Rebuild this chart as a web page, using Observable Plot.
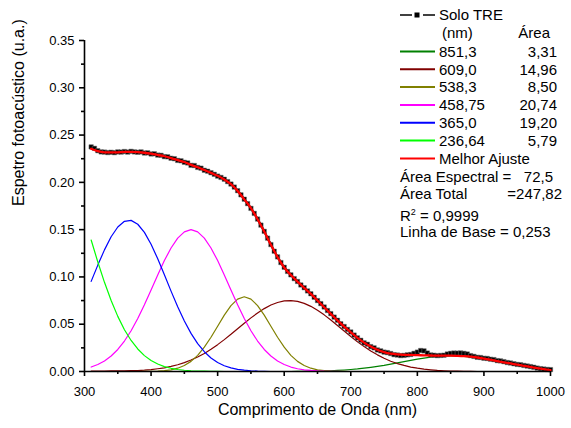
<!DOCTYPE html>
<html>
<head>
<meta charset="utf-8">
<script src="https://cdn.jsdelivr.net/npm/d3@7"></script>
<script src="https://cdn.jsdelivr.net/npm/@observablehq/plot@0.6"></script>
<style>
  html, body { margin: 0; padding: 0; background: #fff; }
  #chart { position: relative; width: 571px; height: 428px; }
  #chart svg { overflow: visible; }
</style>
</head>
<body>
<div id="chart"></div>
<script>
// Wavelength grids (nm)
const wl = d3.range(310, 1001, 10);      // fitted curves & components
const wlData = d3.range(310, 1001, 5);   // measured points

// Measured spectrum (Solo TRE)
const soloTRE = [
  0.2375,0.2360,0.2335,0.2322,0.2320,0.2315,0.2318,0.2314,0.2322,0.2320,
  0.2326,0.2320,0.2328,0.2322,0.2318,0.2322,0.2310,0.2312,0.2300,0.2302,
  0.2288,0.2286,0.2272,0.2270,0.2255,0.2250,0.2232,0.2228,0.2212,0.2205,
  0.2180,0.2178,0.2158,0.2150,0.2128,0.2118,0.2102,0.2085,0.2066,0.2052,
  0.2033,0.2008,0.1982,0.1950,0.1912,0.1868,0.1822,0.1775,0.1725,0.1672,
  0.1612,0.1548,0.1482,0.1410,0.1342,0.1272,0.1212,0.1152,0.1102,0.1058,
  0.1022,0.0982,0.0952,0.0915,0.0886,0.0852,0.0822,0.0785,0.0750,0.0718,
  0.0682,0.0645,0.0612,0.0575,0.0542,0.0505,0.0476,0.0445,0.0418,0.0385,
  0.0356,0.0330,0.0303,0.0288,0.0263,0.0250,0.0228,0.0218,0.0205,0.0200,
  0.0190,0.0178,0.0174,0.0168,0.0170,0.0176,0.0180,0.0192,0.0205,0.0222,
  0.0218,0.0195,0.0175,0.0172,0.0168,0.0170,0.0172,0.0185,0.0192,0.0195,
  0.0194,0.0196,0.0192,0.0185,0.0168,0.0160,0.0150,0.0148,0.0140,0.0138,
  0.0130,0.0126,0.0115,0.0112,0.0104,0.0095,0.0090,0.0082,0.0075,0.0072,
  0.0064,0.0058,0.0052,0.0045,0.0036,0.0030,0.0026,0.0022,0.0020
];

// Best fit (Melhor Ajuste)
const melhorAjuste = [
  0.2355,0.2330,0.2318,0.2316,0.2318,0.2322,0.2323,0.2320,0.2313,0.2303,
  0.2290,0.2276,0.2257,0.2235,0.2215,0.2185,0.2160,0.2130,0.2100,0.2069,
  0.2030,0.1980,0.1910,0.1820,0.1727,0.1610,0.1480,0.1340,0.1210,0.1100,
  0.1020,0.0950,0.0885,0.0820,0.0751,0.0680,0.0610,0.0540,0.0475,0.0415,
  0.0355,0.0305,0.0265,0.0230,0.0205,0.0188,0.0180,0.0176,0.0175,0.0173,
  0.0171,0.0169,0.0168,0.0167,0.0167,0.0165,0.0162,0.0157,0.0148,0.0137,
  0.0124,0.0110,0.0097,0.0085,0.0072,0.0060,0.0048,0.0036,0.0024,0.0015
];

// Gaussian components (310..1000 nm every 10 nm)
const peak851 = [
  0,0,0,0,0,0,0,0,0,0,
  0,0,0,0,0,0,0,0,0,0,
  0,0,0,0,0,0,0,0,0,0,
  0,0.0001,0.0002,0.0003,0.0004,0.0006,0.0008,0.0012,0.0016,0.0021,
  0.0027,0.0035,0.0044,0.0054,0.0065,0.0078,0.0091,0.0104,0.0118,0.0130,
  0.0142,0.0151,0.0159,0.0163,0.0165,0.0164,0.0160,0.0153,0.0144,0.0133,
  0.0120,0.0107,0.0094,0.0080,0.0068,0.0056,0.0046,0.0036,0.0028,0.0022
];
const peak609 = [
  0.0003,0.0004,0.0005,0.0006,0.0007,0.0008,0.0009,0.0010,0.0014,0.0020,
  0.0029,0.0039,0.0054,0.0071,0.0094,0.0121,0.0153,0.0191,0.0235,0.0284,
  0.0337,0.0393,0.0452,0.0510,0.0567,0.0619,0.0665,0.0703,0.0730,0.0746,
  0.0750,0.0741,0.0720,0.0689,0.0647,0.0599,0.0544,0.0487,0.0428,0.0370,
  0.0315,0.0264,0.0217,0.0176,0.0140,0.0109,0.0084,0.0064,0.0047,0.0035,
  0.0025,0.0018,0.0012,0.0008,0.0005,0.0003,0.0002,0.0001,0,0,
  0,0,0,0,0,0,0,0,0,0
];
const peak538 = [
  0,0,0,0,0,0,0,0,0.0001,0.0002,
  0.0004,0.0009,0.0018,0.0035,0.0063,0.0107,0.0171,0.0257,0.0362,0.0479,
  0.0596,0.0697,0.0766,0.0790,0.0766,0.0697,0.0596,0.0479,0.0362,0.0257,
  0.0171,0.0107,0.0063,0.0035,0.0018,0.0009,0.0004,0.0002,0.0001,0,
  0,0,0,0,0,0,0,0,0,0,
  0,0,0,0,0,0,0,0,0,0,
  0,0,0,0,0,0,0,0,0,0
];
const peak458 = [
  0.0047,0.0074,0.0111,0.0164,0.0233,0.0322,0.0431,0.0560,0.0706,0.0862,
  0.1021,0.1173,0.1306,0.1410,0.1477,0.1500,0.1477,0.1410,0.1306,0.1173,
  0.1021,0.0862,0.0706,0.0560,0.0431,0.0322,0.0233,0.0164,0.0111,0.0074,
  0.0047,0.0029,0.0018,0.0011,0.0006,0.0003,0.0002,0.0001,0,0,
  0,0,0,0,0,0,0,0,0,0,
  0,0,0,0,0,0,0,0,0,0,
  0,0,0,0,0,0,0,0,0,0
];
const peak365 = [
  0.0953,0.1125,0.1286,0.1425,0.1528,0.1588,0.1598,0.1557,0.1471,0.1345,
  0.1192,0.1022,0.0850,0.0684,0.0534,0.0403,0.0295,0.0209,0.0143,0.0095,
  0.0061,0.0038,0.0023,0.0014,0.0008,0.0004,0.0002,0,0,0,
  0,0,0,0,0,0,0,0,0,0,
  0,0,0,0,0,0,0,0,0,0,
  0,0,0,0,0,0,0,0,0,0,
  0,0,0,0,0,0,0,0,0,0
];
const peak236 = [
  0.1390,0.1158,0.0943,0.0750,0.0583,0.0442,0.0328,0.0238,0.0168,0.0117,
  0.0079,0.0052,0.0034,0.0021,0.0013,0.0008,0.0005,0.0003,0.0002,0.0001,
  0,0,0,0,0,0,0,0,0,0,
  0,0,0,0,0,0,0,0,0,0,
  0,0,0,0,0,0,0,0,0,0,
  0,0,0,0,0,0,0,0,0,0,
  0,0,0,0,0,0,0,0,0,0
];

// Legend texts
const peakLabels = ["851,3", "609,0", "538,3", "458,75", "365,0", "236,64"];
const peakAreas = ["3,31", "14,96", "8,50", "20,74", "19,20", "5,79"];
const peakColors = ["#008000", "#800000", "#808000", "#ff00ff", "#0000ff", "#00ff00"];
const peakSeries = [peak851, peak609, peak538, peak458, peak365, peak236];

// Axes
const xTicks = [300, 400, 500, 600, 700, 800, 900, 1000];
const xMinor = [350, 450, 550, 650, 750, 850, 950];
const yTicks = [0, 0.05, 0.10, 0.15, 0.20, 0.25, 0.30, 0.35];
const yMinor = [0.025, 0.075, 0.125, 0.175, 0.225, 0.275, 0.325];
const xTitle = "Comprimento de Onda (nm)";
const yTitle = "Espetro fotoacústico (u.a.)";

const FONT = "'Liberation Sans', Arial, Helvetica, sans-serif";

const toRows = (xs, ys) => ys.map((v, j) => ({x: xs[j], y: v}));

const compMarks = peakSeries.map((vals, i) =>
  Plot.line(toRows(wl, vals), {x: "x", y: "y", stroke: peakColors[i], strokeWidth: 1.2})
);

const dataRows = toRows(wlData, soloTRE);
const fitRows = toRows(wl, melhorAjuste);

const plot = Plot.plot({
  width: 571,
  height: 428,
  marginLeft: 84,
  marginRight: 21,
  marginTop: 40,
  marginBottom: 57,
  style: {fontFamily: FONT, fontSize: "13px", color: "#000", background: "#fff"},
  x: {domain: [300, 1000]},
  y: {domain: [0, 0.35]},
  marks: [
    ...compMarks,
    Plot.line(dataRows, {x: "x", y: "y", stroke: "#000", strokeWidth: 2.2}),
    Plot.dot(dataRows, {x: "x", y: "y", symbol: "square", r: 2.5, fill: "#000", stroke: "#777", strokeWidth: 0.5}),
    Plot.line(fitRows, {x: "x", y: "y", stroke: "#ff0000", strokeWidth: 2.3, curve: "monotone-x"}),
    Plot.ruleX([300], {stroke: "#000", strokeWidth: 1.6}),
    Plot.ruleY([0], {stroke: "#000", strokeWidth: 1.6}),
    Plot.axisX({ticks: xTicks, tickSize: 5, tickPadding: 10, tickFormat: d => String(d), label: null, strokeWidth: 1.6, fontSize: 13}),
    Plot.axisX({ticks: xMinor, tickSize: 3, text: null, label: null, strokeWidth: 1.6}),
    Plot.axisY({ticks: yTicks, tickSize: 5, tickPadding: 5, tickFormat: d3.format(".2f"), label: null, strokeWidth: 1.6, fontSize: 13}),
    Plot.axisY({ticks: yMinor, tickSize: 3, text: null, label: null, strokeWidth: 1.6}),
    Plot.text([xTitle], {text: d => d, frameAnchor: "bottom", dy: 43, fontSize: 16}),
    Plot.text([yTitle], {text: d => d, frameAnchor: "left", dx: -66, rotate: -90, fontSize: 16})
  ]
});

const chart = document.getElementById("chart");
chart.appendChild(plot);

// Legend overlay
const leg = d3.select(chart).append("svg")
  .attr("width", 571).attr("height", 428)
  .style("position", "absolute").style("left", "0px").style("top", "0px")
  .style("pointer-events", "none")
  .attr("font-family", FONT).attr("font-size", 15).attr("fill", "#000");

const base = 5.3;  // baseline offset from row centre
const lx0 = 400, lx1 = 435, tx = 439, areaX = 557;

// Row 1: Solo TRE
leg.append("line").attr("x1", lx0).attr("x2", 412).attr("y1", 15).attr("y2", 15).attr("stroke", "#000").attr("stroke-width", 1.5);
leg.append("line").attr("x1", 423).attr("x2", lx1).attr("y1", 15).attr("y2", 15).attr("stroke", "#000").attr("stroke-width", 1.5);
leg.append("rect").attr("x", 414.5).attr("y", 12.5).attr("width", 5).attr("height", 5).attr("fill", "#000");
leg.append("text").attr("x", tx).attr("y", 15 + base).text("Solo TRE");

// Row 2: header
leg.append("text").attr("x", 442).attr("y", 33 + base).text("(nm)");
leg.append("text").attr("x", 550).attr("y", 33 + base).attr("text-anchor", "end").text("Área");

// Peak rows
peakLabels.forEach((lab, i) => {
  const y = 51.5 + i * 17.8;
  leg.append("line").attr("x1", lx0).attr("x2", lx1).attr("y1", y).attr("y2", y)
    .attr("stroke", peakColors[i]).attr("stroke-width", 2);
  leg.append("text").attr("x", tx).attr("y", y + base).text(lab);
  leg.append("text").attr("x", areaX).attr("y", y + base).attr("text-anchor", "end").text(peakAreas[i]);
});

// Melhor Ajuste
leg.append("line").attr("x1", lx0).attr("x2", lx1).attr("y1", 158.5).attr("y2", 158.5)
  .attr("stroke", "#ff0000").attr("stroke-width", 2.2);
leg.append("text").attr("x", tx).attr("y", 158.5 + base).text("Melhor Ajuste");

// Stats
leg.append("text").attr("x", 400).attr("y", 176.5 + base).text("Área Espectral =");
leg.append("text").attr("x", 553).attr("y", 176.5 + base).attr("text-anchor", "end").text("72,5");
leg.append("text").attr("x", 400).attr("y", 194 + base).text("Área Total");
leg.append("text").attr("x", 562).attr("y", 194 + base).attr("text-anchor", "end").text("=247,82");
const r2 = leg.append("text").attr("x", 400).attr("y", 216 + base);
r2.append("tspan").text("R");
r2.append("tspan").attr("font-size", 9).attr("dy", -6).text("2");
r2.append("tspan").attr("dy", 6).text(" = 0,9999");
leg.append("text").attr("x", 400).attr("y", 232 + base).text("Linha de Base = 0,253");
</script>
</body>
</html>
